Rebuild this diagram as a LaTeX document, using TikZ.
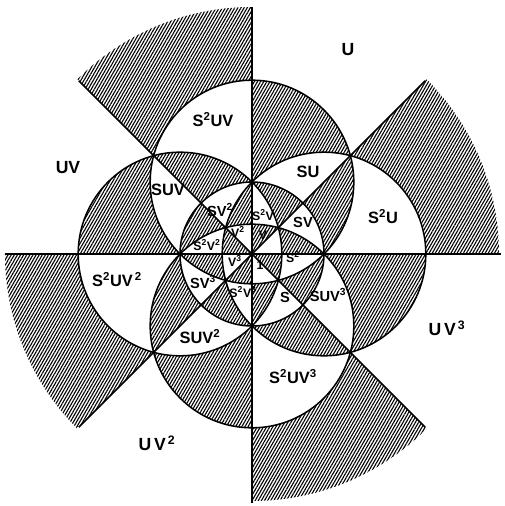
\documentclass[tikz,border=0pt]{standalone}
\usepackage{fontspec}
\setmainfont{Liberation Sans}
\usetikzlibrary{patterns.meta}

\begin{document}
\begin{tikzpicture}[x=0.03cm, y=0.03cm]
    % Stili
    \tikzstyle{specchio} = [line width=1.3pt]
    \tikzstyle{tratteggio} = [pattern={Lines[angle=60, distance=2.3pt, line width=0.95pt]}]
    \tikzstyle{etigrande} = [font=\bfseries\fontsize{15}{15}\selectfont]
    \tikzstyle{etimedia} = [font=\bfseries\fontsize{14}{14}\selectfont]
    \tikzstyle{etipiccola} = [font=\bfseries\fontsize{12.5}{12.5}\selectfont, inner sep=0pt]
    \tikzstyle{etiminima} = [font=\bfseries\fontsize{10.5}{10.5}\selectfont, inner sep=0pt]

    \useasboundingbox (-252,-252) rectangle (252,254);

    % Centri dei cerchi
    \coordinate (O) at (0,0);
    \coordinate (ce) at (72,0);
    \coordinate (cw) at (-72,0);
    \coordinate (cn) at (0,72);
    \coordinate (cs) at (0,-72);

    % Triangoli ombreggiati (regola pari-dispari)
    \begin{scope}
        \clip (O) circle (247);
        \path[tratteggio, even odd rule]
            (O) circle (72)
            (ce) circle (101.82) (cw) circle (101.82)
            (cn) circle (101.82) (cs) circle (101.82)
            (0,-260) rectangle (260,260)
            (-260,0) rectangle (260,260)
            (-260,-260) -- (260,260) -- (-260,260) -- cycle
            (260,-260) -- (260,260) -- (-260,260) -- cycle;
    \end{scope}

    % Cerchi e rette
    \draw[specchio] (O) circle (72);
    \foreach \c in {ce, cw, cn, cs}
        \draw[specchio] (\c) circle (101.82);
    \draw[specchio] (-247,0) -- (249,0);
    \draw[specchio] (0,-249) -- (0,247);
    \draw[specchio] (135:245) -- (-45:245);
    \draw[specchio] (45:245) -- (225:245);

    % Etichette
    \node[etigrande] (u) at (96,204) {U};
    \node[etigrande] (uv) at (-184,86) {UV};
    \node[etigrande] (uvv) at (-95,-189) {U\,V\textsuperscript{\,2}};
    \node[etigrande] (uvvv) at (195,-74) {U\,V\textsuperscript{\,3}};

    \node[etimedia] (ssuv) at (-39,134) {S\textsuperscript{2}UV};
    \node[etimedia] (su) at (56,82) {SU};
    \node[etimedia] (ssu) at (131,37) {S\textsuperscript{2}U};
    \node[etimedia] (suv) at (-84,64) {SUV};
    \node[etimedia] (ssuvv) at (-135,-26) {S\textsuperscript{2}UV\textsuperscript{\,2}};
    \node[etimedia] (suvv) at (-52,-83) {SUV\textsuperscript{2}};
    \node[etimedia] (ssuvvv) at (41,-123) {S\textsuperscript{2}UV\textsuperscript{3}};
    \node[etipiccola] (suvvv) at (76,-41) {SUV\textsuperscript{3}};

    \node[etipiccola] (svv) at (-32,44) {SV\textsuperscript{2}};
    \node[etipiccola] (sv) at (51,32) {SV};
    \node[etipiccola] (svvv) at (-49,-28) {SV\textsuperscript{3}};
    \node[etipiccola] (s) at (33,-43) {S};

    \node[etiminima] (ssv) at (11,39) {S\textsuperscript{2}V};
    \node[etiminima] (ssvv) at (-45,9) {S\textsuperscript{2}V\textsuperscript{2}};
    \node[etiminima] (ssvvv) at (-9,-38) {S\textsuperscript{2}V\textsuperscript{3}};
    \node[etiminima] (v) at (11,19) {V};
    \node[etiminima] (vv) at (-14,22) {V\textsuperscript{2}};
    \node[etiminima] (vvv) at (-17,-7) {V\textsuperscript{3}};
    \node[etiminima] (uno) at (8,-11) {1};
    \node[etiminima] (ss) at (41,-3) {S\textsuperscript{2}};
\end{tikzpicture}
\end{document}
